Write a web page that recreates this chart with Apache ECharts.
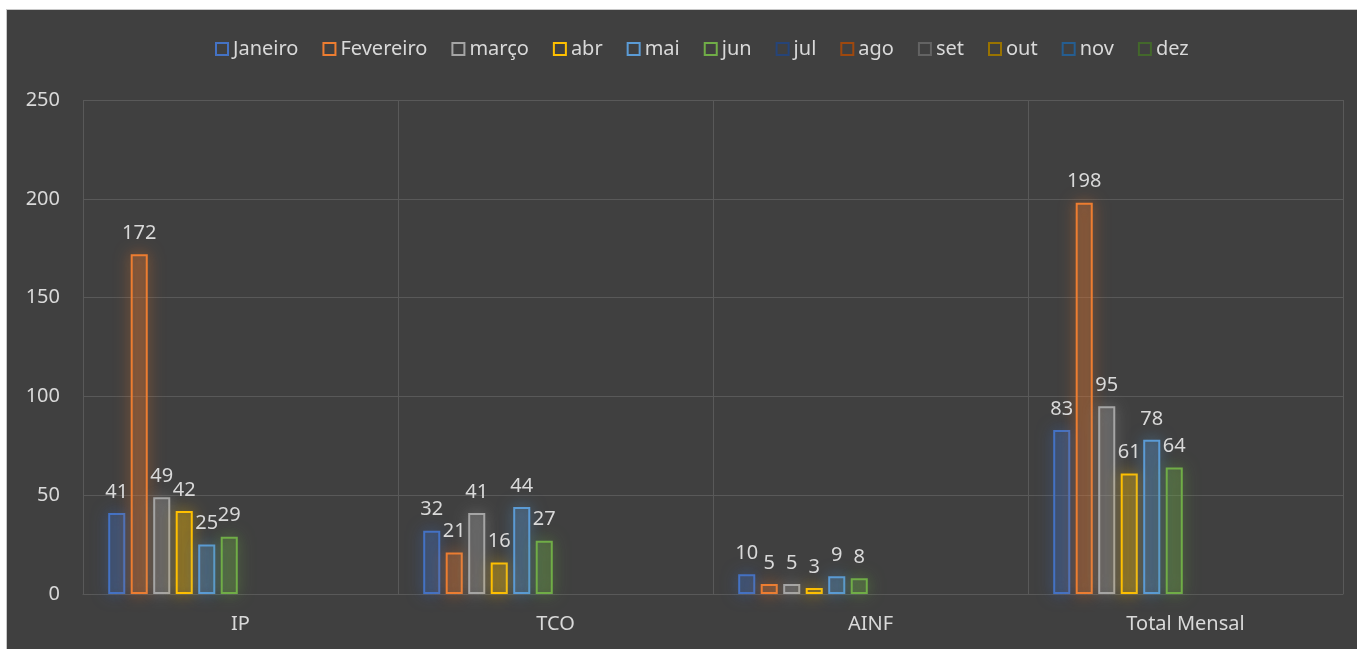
<!DOCTYPE html>
<html>
<head>
<meta charset="utf-8">
<script src="https://cdn.jsdelivr.net/npm/echarts@6/dist/echarts.min.js"></script>
<style>
  html, body {
    margin: 0;
    padding: 0;
    background: #ffffff;
  }
  .frame {
    position: absolute;
    left: 6px;
    top: 9px;
    width: 1357px;
    height: 649px;
    border: 1px solid #c8c8c8;
    background: #404040;
  }
  #chart {
    position: absolute;
    left: 0;
    top: 0;
    width: 1357px;
    height: 649px;
  }
</style>
</head>
<body>
<div class="frame"></div>
<div id="chart"></div>
<script>
const categories = ['IP', 'TCO', 'AINF', 'Total Mensal']
const months = ['Janeiro', 'Fevereiro', 'março', 'abr', 'mai', 'jun', 'jul', 'ago', 'set', 'out', 'nov', 'dez']
const colors = ['#4472C4', '#ED7D31', '#A5A5A5', '#FFC000', '#5B9BD5', '#70AD47',
  '#264478', '#9E480E', '#636363', '#997300', '#255E91', '#43682B']

const janeiro = [41, 32, 10, 83]
const fevereiro = [172, 21, 5, 198]
const marco = [49, 41, 5, 95]
const abr = [42, 16, 3, 61]
const mai = [25, 44, 9, 78]
const jun = [29, 27, 8, 64]
// jul..dez have no values yet
const empty = [null, null, null, null]

const values = [janeiro, fevereiro, marco, abr, mai, jun, empty, empty, empty, empty, empty, empty]

const yTicks = [0, 50, 100, 150, 200, 250]

const textColor = '#d9d9d9'
const font = 'Noto Sans'

const hexToRgba = (hex, a) => {
  const n = parseInt(hex.slice(1), 16)
  return `rgba(${(n >> 16) & 255}, ${(n >> 8) & 255}, ${n & 255}, ${a})`
}

const chart = echarts.init(document.getElementById('chart'))

const option = {
  animation: false,
  textStyle: {
    fontFamily: font
  },
  legend: {
    top: 34,
    left: 210,
    itemWidth: 12,
    itemHeight: 12,
    itemGap: 24,
    icon: 'rect',
    itemStyle: {
      color: 'transparent',
      borderWidth: 2,
      shadowBlur: 0
    },
    textStyle: {
      color: textColor,
      fontSize: 20,
      fontFamily: font
    },
    data: months
  },
  grid: {
    left: 83,
    right: 14,
    top: 100,
    bottom: 55
  },
  xAxis: {
    type: 'category',
    data: categories,
    axisLine: {
      lineStyle: {
        color: '#595959'
      }
    },
    axisTick: {
      show: false
    },
    splitLine: {
      show: true,
      lineStyle: {
        color: '#595959',
        width: 1
      }
    },
    axisLabel: {
      color: textColor,
      fontSize: 20,
      margin: 20
    }
  },
  yAxis: {
    type: 'value',
    min: yTicks[0],
    max: yTicks[yTicks.length - 1],
    interval: 50,
    splitLine: {
      lineStyle: {
        color: '#595959'
      }
    },
    axisLine: {
      show: false
    },
    axisLabel: {
      color: textColor,
      fontSize: 20,
      margin: 23
    }
  },
  series: months.map((name, i) => ({
    name: name,
    type: 'bar',
    data: values[i],
    barCategoryGap: '16%',
    barGap: '32%',
    itemStyle: {
      color: hexToRgba(colors[i], 0.22),
      borderColor: colors[i],
      borderWidth: 2,
      shadowBlur: 16,
      shadowColor: hexToRgba(colors[i], 0.8)
    },
    label: {
      show: true,
      position: 'top',
      distance: 11,
      color: textColor,
      fontSize: 20,
      fontFamily: font
    }
  }))
}

chart.setOption(option)
</script>
</body>
</html>
